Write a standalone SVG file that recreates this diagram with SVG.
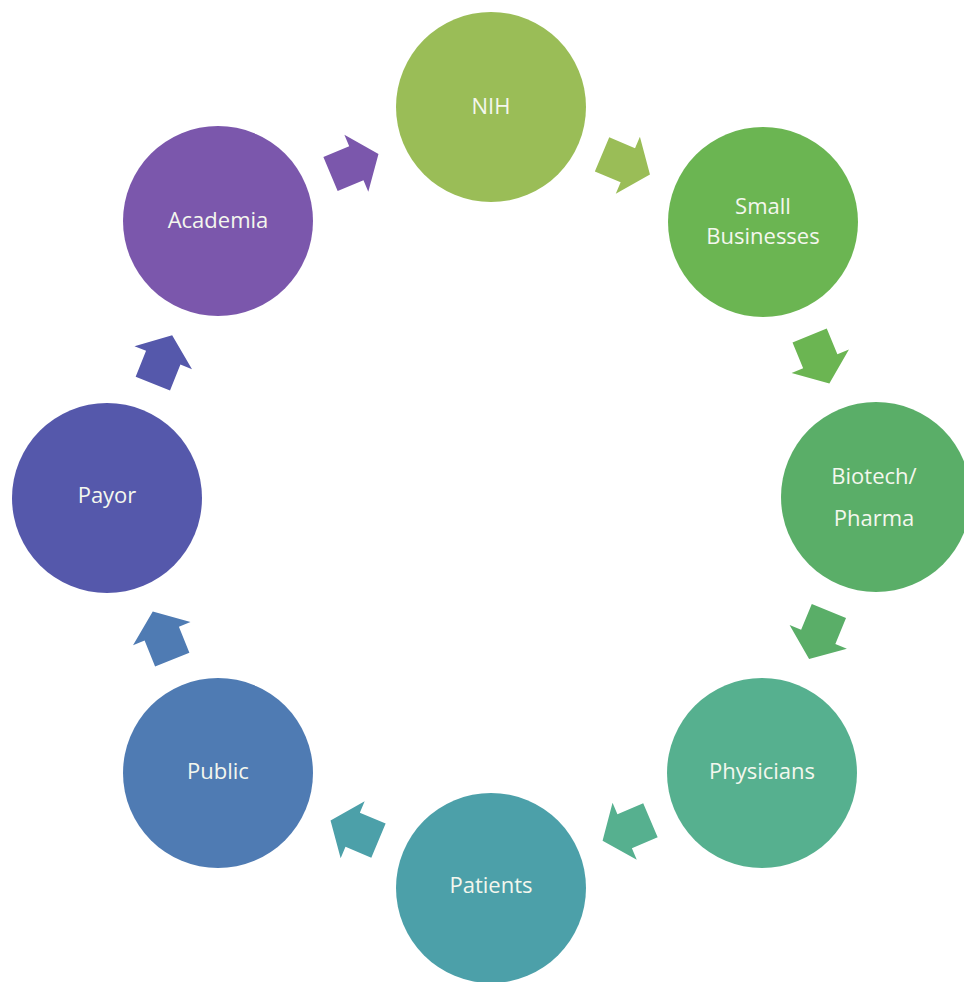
<svg xmlns="http://www.w3.org/2000/svg" xmlns:xlink="http://www.w3.org/1999/xlink" width="964" height="982" viewBox="0 0 964 982">
  <style>
    .lbl { font-family: "Open Sans", "Noto Sans", "Liberation Sans", sans-serif; font-size: 22px; fill: #f4f7ee; text-anchor: middle; }
  </style>
  <defs>
    <polygon id="arrow" points="-26,-18.5 2,-18.5 2,-31 26,0 2,31 2,18.5 -26,18.5"/>
  </defs>
  <rect width="964" height="982" fill="#ffffff"/>

  <g id="connectors">
    <use href="#arrow" xlink:href="#arrow" fill="#7b57ac" transform="translate(354.5,164) rotate(-22.7)"/>
    <use href="#arrow" xlink:href="#arrow" fill="#9abd57" transform="translate(626,164.5) rotate(22.9)"/>
    <use href="#arrow" xlink:href="#arrow" fill="#6bb552" transform="translate(819.5,359.5) rotate(67.7)"/>
    <use href="#arrow" xlink:href="#arrow" fill="#5aae68" transform="translate(819,635) rotate(112.4)"/>
    <use href="#arrow" xlink:href="#arrow" fill="#56b08f" transform="translate(626.5,830.5) rotate(157)"/>
    <use href="#arrow" xlink:href="#arrow" fill="#4ca0a9" transform="translate(354.5,830.5) rotate(202.8)"/>
    <use href="#arrow" xlink:href="#arrow" fill="#4f7bb3" transform="translate(162.5,635.5) rotate(248)"/>
    <use href="#arrow" xlink:href="#arrow" fill="#5558ab" transform="translate(162.5,359.5) rotate(291.8)"/>
  </g>

  <g id="node-nih">
    <circle cx="491" cy="107" r="95" fill="#9abd57"/>
    <text class="lbl" x="491" y="114">NIH</text>
  </g>
  <g id="node-small-businesses">
    <circle cx="763" cy="222" r="95" fill="#6bb552"/>
    <text class="lbl" x="763" y="214">Small</text>
    <text class="lbl" x="763" y="244">Businesses</text>
  </g>
  <g id="node-biotech-pharma">
    <circle cx="876" cy="497" r="95" fill="#5aae68"/>
    <text class="lbl" x="874" y="484">Biotech/</text>
    <text class="lbl" x="874" y="526">Pharma</text>
  </g>
  <g id="node-physicians">
    <circle cx="762" cy="773" r="95" fill="#56b08f"/>
    <text class="lbl" x="762" y="779">Physicians</text>
  </g>
  <g id="node-patients">
    <circle cx="491" cy="888" r="95" fill="#4ca0a9"/>
    <text class="lbl" x="491" y="893">Patients</text>
  </g>
  <g id="node-public">
    <circle cx="218" cy="773" r="95" fill="#4f7bb3"/>
    <text class="lbl" x="218" y="779">Public</text>
  </g>
  <g id="node-payor">
    <circle cx="107" cy="498" r="95" fill="#5558ab"/>
    <text class="lbl" x="107" y="503">Payor</text>
  </g>
  <g id="node-academia">
    <circle cx="218" cy="221" r="95" fill="#7b57ac"/>
    <text class="lbl" x="218" y="228">Academia</text>
  </g>
</svg>
